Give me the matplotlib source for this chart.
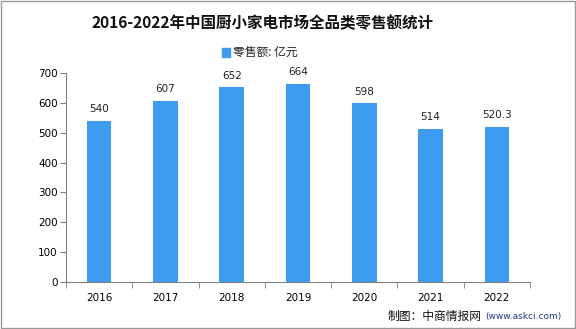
import matplotlib.pyplot as plt
from matplotlib.patches import Rectangle

plt.rcParams['font.family'] = ['Noto Sans CJK SC', 'DejaVu Sans']

years = ["2016", "2017", "2018", "2019", "2020", "2021", "2022"]
sales = [540, 607, 652, 664, 598, 514, 520.3]
labels = ["540", "607", "652", "664", "598", "514", "520.3"]

bar_color = "#3d9bf0"
axis_color = "#808080"

fig = plt.figure(figsize=(5.76, 3.29), dpi=100)
fig.patches.append(Rectangle((0.001, 0.002), 0.997, 0.995, transform=fig.transFigure,
                             fill=False, edgecolor="#999999", linewidth=1.0))

ax = fig.add_axes([0.1146, 0.143, 0.8056, 0.635])
x = range(len(years))
ax.bar(x, sales, width=0.37, color=bar_color)
for i, v in enumerate(sales):
    ax.text(i, v + 22, labels[i], ha="center", va="bottom", fontsize=7.5,
            family="DejaVu Sans", color="#222222")

ax.set_xlim(-0.5, len(years) - 0.5)
ax.set_ylim(0, 700)
ax.set_yticks(range(0, 701, 100))
ax.set_xticks(list(x))
ax.set_xticklabels(years)
ax.set_xticks([i + 0.5 for i in range(-1, len(years))], minor=True)
ax.tick_params(axis="x", which="major", length=0, pad=8)
ax.tick_params(axis="x", which="minor", length=4, color=axis_color)
ax.tick_params(axis="y", length=4, color=axis_color, pad=2)
for lab in ax.get_xticklabels() + ax.get_yticklabels():
    lab.set_fontsize(7.5)
    lab.set_family("DejaVu Sans")
for s in ["top", "right"]:
    ax.spines[s].set_visible(False)
for s in ["left", "bottom"]:
    ax.spines[s].set_color(axis_color)

fig.text(0.455, 0.93, "2016-2022年中国厨小家电市场全品类零售额统计", ha="center", va="center",
         fontsize=11.2, fontweight="bold", color="#111111")
fig.patches.append(Rectangle((0.3855, 0.826), 0.014, 0.028, transform=fig.transFigure,
                             color=bar_color))
fig.text(0.404, 0.840, "零售额: 亿元", ha="left", va="center", fontsize=8.5, color="#222222")

fig.text(0.672, 0.038, "制图：中商情报网", ha="left", va="center", fontsize=8.5, color="#111111")
fig.text(0.842, 0.038, "(www.askci.com)", ha="left", va="center", fontsize=6.5,
         family="DejaVu Sans", color="#1f3a8a")

fig.savefig("out.png", dpi=100)
